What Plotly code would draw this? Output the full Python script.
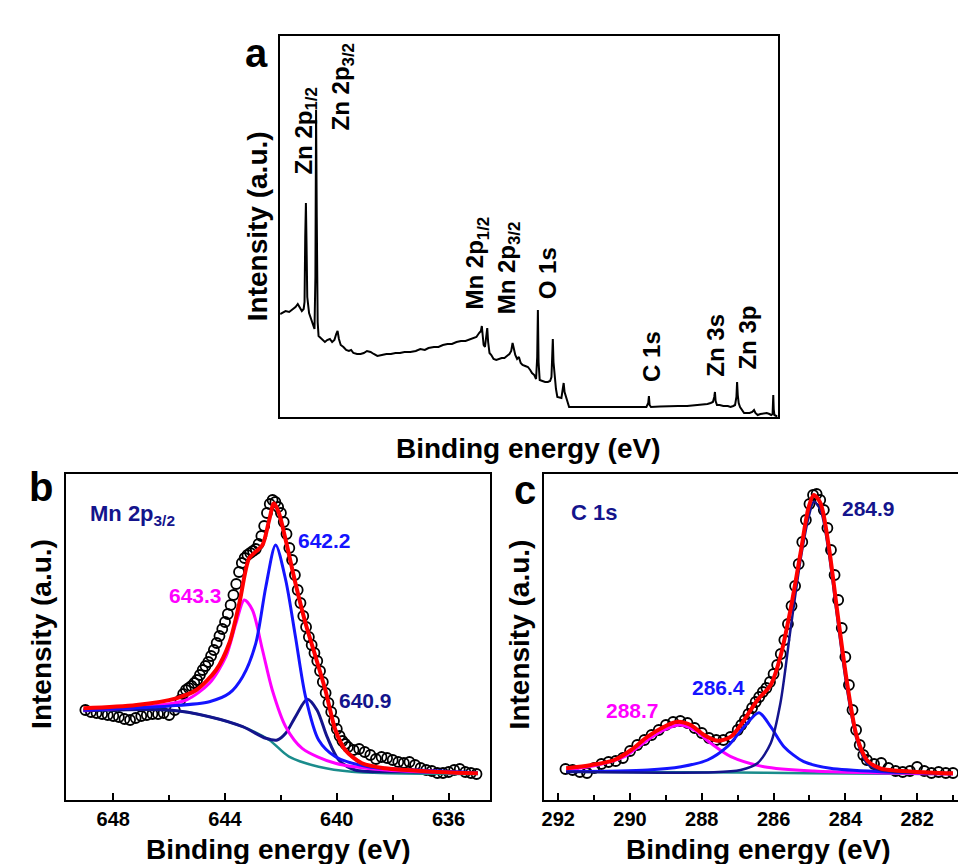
import plotly.graph_objects as go

FONT = "Liberation Sans, Arial, Helvetica, sans-serif"

# ---------------- Panel a: XPS survey ----------------
survey_energy = [1100, 1096, 1088, 1080, 1072, 1066, 1061, 1056, 1052, 1048, 1046, 1044.5, 1043, 1041.5, 1040,
                 1036, 1031, 1027, 1024, 1022, 1020.5, 1019, 1017, 1015, 1010, 1005, 1001, 996, 990, 985, 980,
                 976, 973, 970, 966, 960, 954, 948, 943, 938, 930, 922, 915, 908, 900, 893, 885, 875, 865, 855,
                 845, 835, 825, 812, 800, 790, 780, 772, 760, 750, 740, 730, 720, 710, 700, 690, 680, 672, 666,
                 660, 656, 654, 652, 650, 647, 644, 642, 640, 637, 633, 628, 622, 616, 610, 604, 598, 593, 589,
                 586, 583, 580, 576, 572, 568, 564, 558, 552, 547, 543, 538, 534, 531.5, 530, 528.5, 526, 520,
                 514, 508, 503, 500, 498.5, 497, 495.5, 493, 490, 487, 482, 478, 475, 473, 471, 468, 465, 461,
                 455, 440, 420, 400, 380, 360, 340, 320, 300, 290, 286, 284.5, 283, 280, 260, 240, 220, 200,
                 180, 165, 155, 148, 143, 140, 138.5, 137, 134, 128, 120, 110, 104, 98, 94, 91, 89.5, 88, 86,
                 83, 78, 74, 70, 62, 56, 52, 49, 44, 38, 30, 24, 18, 14, 11, 10, 9.5, 8.5, 7, 3, 0]
survey_intensity = [103, 104, 106, 105, 108, 110, 113, 109, 106, 108, 115, 180, 214, 170, 120,
                    104, 97, 92, 88, 140, 307, 200, 95, 81, 79, 76, 75, 77, 78, 75, 77,
                    83, 86, 78, 72, 70, 67, 66, 67, 64, 63, 63, 64, 66, 65, 63, 61, 62, 63, 63,
                    64, 64, 65, 65, 66, 68, 67, 69, 70, 70, 72, 73, 73, 75, 76, 76, 78, 79, 80,
                    84, 86, 91, 82, 72, 70, 80, 89, 75, 64, 62, 58, 57, 58, 59, 59, 61, 63, 66,
                    74, 68, 62, 58, 60, 54, 52, 51, 50, 47, 44, 42, 38, 60, 107, 55, 37, 36,
                    35, 35, 36, 40, 60, 78, 55, 40, 28, 20, 19, 19, 28, 34, 25, 20, 15, 10,
                    10, 10, 10, 9.5, 10, 10, 9.5, 10, 10, 10, 14, 21, 12, 10, 10.5, 11, 11, 11,
                    12, 12, 13, 14, 15, 20, 25, 16, 12, 12, 11, 11, 10, 11, 12, 20, 35, 22, 14,
                    10, 6, 4, 4, 4, 5, 7, 4, 2, 3, 4, 4, 3, 2, 3, 14, 22, 8, 2, 1, 1]

survey_labels = ["Zn 2p<sub>1/2</sub>", "Zn 2p<sub>3/2</sub>", "Mn 2p<sub>1/2</sub>", "Mn 2p<sub>3/2</sub>",
                 "O 1s", "C 1s", "Zn 3s", "Zn 3p"]
survey_label_x = [1043.8, 961.1, 665.8, 595.3, 509.3, 280, 139, 68.5]
survey_label_y = [286, 330.5, 154, 149, 144, 61, 72, 79]

# ---------------- Panel b: Mn 2p3/2 ----------------
mn_data_energy = [649.0, 648.8, 648.6, 648.4, 648.2, 648.0, 647.8, 647.6, 647.4, 647.2, 647.0, 646.8, 646.6,
                  646.4, 646.2, 646.0, 645.8, 645.6, 645.5, 645.4, 645.3, 645.2, 645.1, 645.0, 644.9, 644.8,
                  644.7, 644.6, 644.5, 644.4, 644.3, 644.2, 644.1, 644.0, 643.9, 643.8, 643.7, 643.6, 643.5,
                  643.4, 643.3, 643.2, 643.1, 643.0, 642.9, 642.8, 642.7, 642.6, 642.5, 642.4, 642.3, 642.2,
                  642.1, 642.0, 641.9, 641.8, 641.7, 641.6, 641.5, 641.4, 641.3, 641.2, 641.1, 641.0, 640.9,
                  640.8, 640.7, 640.6, 640.5, 640.4, 640.3, 640.2, 640.1, 640.0, 639.9, 639.8, 639.7, 639.6,
                  639.4, 639.2, 639.0, 638.8, 638.6, 638.4, 638.2, 638.0, 637.8, 637.6, 637.4, 637.2, 637.0,
                  636.8, 636.6, 636.4, 636.2, 636.0, 635.8, 635.6, 635.4, 635.2, 635.0]
mn_data_intensity = [90, 88, 87, 86, 85, 84, 83, 81, 80, 82, 84, 85, 86,
                     86, 87, 85, 90, 100, 106, 110, 112, 114, 117, 120, 125, 130,
                     134, 138, 144, 150, 157, 164, 171, 178, 186, 195, 205, 216, 228,
                     237, 242, 245, 247, 249, 251, 256, 264, 274, 287, 296, 300, 298,
                     293, 287, 278, 266, 252, 240, 225, 210, 197, 184, 173, 163, 155,
                     147, 139, 129, 118, 107, 97, 88, 79, 71, 64, 59, 56, 53,
                     50, 51, 48, 45, 41, 43, 42, 40, 38, 37, 38, 35, 32,
                     30, 29, 27, 27, 28, 30, 31, 28, 27, 26]

mn_fit_energy = [649.07, 647.17, 645.75, 645.03, 644.32, 643.85, 643.49, 643.14, 642.9, 642.66, 642.42, 642.25,
                 642.07, 641.83, 641.48, 641.12, 640.76, 640.41, 640.05, 639.7, 639.1, 638.27, 636.49, 634.95]
mn_fit_intensity = [91.7, 95, 101.7, 110, 130, 156.7, 196.7, 241.7, 248.3, 255, 280, 296.7,
                    286.7, 260, 216.7, 176.7, 143.3, 110, 70, 50, 36.7, 31.7, 28.3, 26.7]

mn_p1_energy = [649.07, 645.98, 644.56, 643.85, 643.37, 642.9, 642.54, 642.19, 641.83, 641.48, 641.12, 640.65,
                640.05, 638.87, 637.09, 634.95]
mn_p1_intensity = [90, 94, 98.3, 106.7, 123.3, 156.7, 213.3, 255, 220, 163.3, 103.3, 60,
                   43.3, 33.3, 30, 27.3]

mn_p2_energy = [649.07, 646.58, 645.39, 644.56, 643.97, 643.61, 643.31, 643.02, 642.66, 642.31, 641.83, 641.24,
                640.05, 638.27, 634.95]
mn_p2_intensity = [90, 94, 100, 116.7, 143.3, 176.7, 200, 190, 150, 110, 73.3, 51.7,
                   36.7, 30, 26.7]

mn_p3_energy = [649.07, 645.98, 644.56, 643.37, 642.54, 642.13, 641.83, 641.48, 641.06, 640.71, 640.35, 639.93,
                639.34, 637.68, 634.95]
mn_p3_intensity = [89.3, 90, 83.3, 73.3, 61.7, 60, 66.7, 83.3, 100.7, 90, 63.3, 40,
                   30, 28.3, 26.7]

mn_bg_energy = [649.07, 645.98, 644.56, 643.37, 642.42, 641.71, 640.65, 639.46, 634.95]
mn_bg_intensity = [89.3, 90, 83.3, 73.3, 60, 43.3, 33.3, 28.3, 26]

mn_labels = ["642.2", "643.3", "640.9"]
mn_label_x = [640.45, 645.04, 638.99]
mn_label_y = [260, 205, 100]

# ---------------- Panel c: C 1s ----------------
c_data_energy = [291.8, 291.6, 291.4, 291.2, 291.0, 290.8, 290.6, 290.4, 290.2, 290.0, 289.8, 289.6, 289.4,
                 289.2, 289.0, 288.8, 288.6, 288.4, 288.2, 288.0, 287.8, 287.6, 287.4, 287.2, 287.0, 286.9,
                 286.8, 286.7, 286.6, 286.5, 286.4, 286.3, 286.2, 286.1, 286.0, 285.9, 285.8, 285.7, 285.6,
                 285.5, 285.4, 285.3, 285.2, 285.1, 285.0, 284.9, 284.8, 284.7, 284.6, 284.5, 284.4, 284.3,
                 284.2, 284.1, 284.0, 283.9, 283.8, 283.7, 283.6, 283.5, 283.4, 283.2, 283.0, 282.8, 282.6,
                 282.4, 282.2, 282.0, 281.8, 281.6, 281.4, 281.2, 281.0]
c_data_intensity = [31, 30, 28, 27, 32, 36, 38, 39, 42, 49, 55, 60, 65,
                    70, 75, 78, 79, 77, 72, 67, 62, 60, 60, 63, 70, 75,
                    80, 86, 92, 98, 103, 108, 112, 118, 126, 135, 146, 160, 176,
                    194, 214, 236, 258, 280, 296, 305, 306, 300, 290, 272, 250, 225,
                    200, 172, 143, 115, 90, 70, 55, 45, 40, 36, 37, 32, 29,
                    28, 29, 33, 29, 27, 28, 27, 27]

c_fit_energy = [291.78, 291.08, 290.44, 289.97, 289.51, 289.05, 288.68, 288.31, 287.94, 287.56, 287.19, 286.82,
                286.45, 286.08, 285.81, 285.53, 285.25, 285.02, 284.88, 284.69, 284.46, 284.23, 283.95, 283.68,
                283.4, 283.03, 282.1, 281.0]
c_fit_intensity = [31.7, 35, 40, 50, 63.3, 73.3, 78.3, 75, 65, 59.3, 63.3, 80,
                   100, 115, 143.3, 190, 246.7, 293.3, 305, 296.7, 253.3, 190, 116.7, 63.3,
                   40, 31.7, 28.3, 26.7]

c_p1_energy = [291.78, 287.66, 286.92, 286.45, 286.08, 285.81, 285.53, 285.25, 285.02, 284.88, 284.69, 284.46,
               284.23, 283.95, 283.68, 283.4, 283.03, 281.0]
c_p1_intensity = [28.3, 27.7, 30, 36.7, 56.7, 96.7, 170, 240, 283.3, 298.3, 290, 246.7,
                  183.3, 110, 60, 36.7, 30, 26.7]

c_p2_energy = [291.78, 289.51, 288.58, 287.84, 287.29, 286.82, 286.41, 286.08, 285.71, 285.16, 284.42, 283.03, 281.0]
c_p2_intensity = [28.3, 30, 33.3, 40, 53.3, 73.3, 87.3, 73.3, 53.3, 38.3, 31.7, 28.3, 26.7]

c_p3_energy = [291.78, 290.9, 290.16, 289.51, 289.05, 288.63, 288.21, 287.75, 287.19, 286.27, 284.88, 281.0]
c_p3_intensity = [30, 35, 43.3, 60, 70, 75, 70, 56.7, 43.3, 33.3, 29, 26]

c_bg_energy = [291.78, 287.0, 285.0, 283.0, 281.0]
c_bg_intensity = [28.3, 27.5, 26.8, 26.3, 26]

c_labels = ["284.9", "286.4", "288.7"]
c_label_x = [283.36, 287.53, 289.92]
c_label_y = [292, 113, 90]

# ---------------- colours ----------------
RED = "#ff0000"
BLUE = "#1414ff"
MAGENTA = "#ff00ff"
NAVY = "#14148c"
TEAL = "#1a8c8c"

fig = go.Figure()

# panel a
fig.add_trace(go.Scatter(x=survey_energy, y=survey_intensity, mode="lines",
                         line=dict(color="black", width=2), xaxis="x", yaxis="y", showlegend=False))


def add_panel(xa, ya, dx, dy, curves):
    fig.add_trace(go.Scatter(x=dx, y=dy, mode="markers", xaxis=xa, yaxis=ya, showlegend=False,
                             marker=dict(symbol="circle-open", size=10, color="black", line=dict(width=1.8))))
    for (cx, cy, col, w) in curves:
        fig.add_trace(go.Scatter(x=cx, y=cy, mode="lines", xaxis=xa, yaxis=ya, showlegend=False,
                                 line=dict(color=col, width=w, shape="spline", smoothing=0.8)))


add_panel("x2", "y2", mn_data_energy, mn_data_intensity, [
    (mn_bg_energy, mn_bg_intensity, TEAL, 2.5),
    (mn_p3_energy, mn_p3_intensity, NAVY, 3),
    (mn_p2_energy, mn_p2_intensity, MAGENTA, 3),
    (mn_p1_energy, mn_p1_intensity, BLUE, 3),
    (mn_fit_energy, mn_fit_intensity, RED, 4),
])

add_panel("x3", "y3", c_data_energy, c_data_intensity, [
    (c_bg_energy, c_bg_intensity, TEAL, 2.5),
    (c_p3_energy, c_p3_intensity, MAGENTA, 3),
    (c_p2_energy, c_p2_intensity, BLUE, 3),
    (c_p1_energy, c_p1_intensity, NAVY, 2.5),
    (c_fit_energy, c_fit_intensity, RED, 4),
])

W, H = 958, 864


def px(x):
    return x / W


def py(y):
    return 1 - y / H


tickfont = dict(family=FONT, size=20, color="black", weight="bold")
frame = dict(showline=True, linecolor="black", linewidth=2, showgrid=False, zeroline=False)

fig.update_layout(
    width=W, height=H, margin=dict(l=0, r=0, t=0, b=0),
    paper_bgcolor="white", plot_bgcolor="white",
    font=dict(family=FONT, color="black"),
    xaxis=dict(domain=[px(278), px(777)], range=[1100, 0], showticklabels=False, ticks="",
               mirror=True, anchor="y", **frame),
    yaxis=dict(domain=[py(417), py(36)], range=[0, 381], showticklabels=False, ticks="",
               mirror=True, anchor="x", **frame),
    xaxis2=dict(domain=[px(63), px(489)], range=[649.7, 634.5], tick0=636, dtick=4,
                ticks="inside", ticklen=7, tickwidth=2, tickcolor="black", tickfont=tickfont,
                ticklabelstandoff=0,
                minor=dict(ticks="inside", dtick=2, tick0=636, ticklen=5, tickwidth=2, tickcolor="black"),
                mirror=True, anchor="y2", **frame),
    yaxis2=dict(domain=[py(800), py(474)], range=[0, 326], showticklabels=False, ticks="",
                mirror=True, anchor="x2", **frame),
    xaxis3=dict(domain=[px(543), 1.0], range=[292.39, 280.86], tick0=282, dtick=2,
                ticks="inside", ticklen=7, tickwidth=2, tickcolor="black", tickfont=tickfont,
                ticklabelstandoff=0,
                minor=dict(ticks="inside", dtick=1, tick0=282, ticklen=5, tickwidth=2, tickcolor="black"),
                mirror=True, anchor="y3", **frame),
    yaxis3=dict(domain=[py(800), py(474)], range=[0, 326], showticklabels=False, ticks="",
                mirror=False, anchor="x3", **frame),
)

ann = []
title_font = dict(family=FONT, size=28, color="black", weight="bold")
letter_font = dict(family=FONT, size=40, color="black", weight="bold")

# axis titles
for (x, y, t, ang) in [(527, 448, "Binding energy (eV)", 0), (276, 849, "Binding energy (eV)", 0),
                       (757, 849, "Binding energy (eV)", 0), (255, 226, "Intensity (a.u.)", -90),
                       (38, 634, "Intensity (a.u.)", -90), (518, 634, "Intensity (a.u.)", -90)]:
    ann.append(dict(x=px(x), y=py(y), xref="paper", yref="paper", text=t, textangle=ang,
                    showarrow=False, xanchor="center", yanchor="middle", font=title_font))

# panel letters
for (x, y, t) in [(254, 53, "a"), (38, 487, "b"), (524, 490, "c")]:
    ann.append(dict(x=px(x), y=py(y), xref="paper", yref="paper", text=t, showarrow=False,
                    xanchor="center", yanchor="middle", font=letter_font))

# survey labels
for t, x, y in zip(survey_labels, survey_label_x, survey_label_y):
    ann.append(dict(x=x, y=y, xref="x", yref="y", text=t, textangle=-90, showarrow=False,
                    xanchor="center", yanchor="middle",
                    font=dict(family=FONT, size=24, color="black", weight="bold")))

# Mn labels
for t, x, y, c in zip(mn_labels, mn_label_x, mn_label_y, [BLUE, MAGENTA, NAVY]):
    ann.append(dict(x=x, y=y, xref="x2", yref="y2", text=t, showarrow=False,
                    xanchor="center", yanchor="middle",
                    font=dict(family=FONT, size=21, color=c, weight="bold")))
ann.append(dict(x=648.9, y=285, xref="x2", yref="y2", text="Mn 2p<sub>3/2</sub>", showarrow=False,
                xanchor="left", yanchor="middle", font=dict(family=FONT, size=22, color=NAVY, weight="bold")))

# C labels
for t, x, y, c in zip(c_labels, c_label_x, c_label_y, [NAVY, BLUE, MAGENTA]):
    ann.append(dict(x=x, y=y, xref="x3", yref="y3", text=t, showarrow=False,
                    xanchor="center", yanchor="middle",
                    font=dict(family=FONT, size=21, color=c, weight="bold")))
ann.append(dict(x=291.7, y=288, xref="x3", yref="y3", text="C 1s", showarrow=False,
                xanchor="left", yanchor="middle", font=dict(family=FONT, size=22, color=NAVY, weight="bold")))

fig.update_layout(annotations=ann)
fig.write_html("out.html")
